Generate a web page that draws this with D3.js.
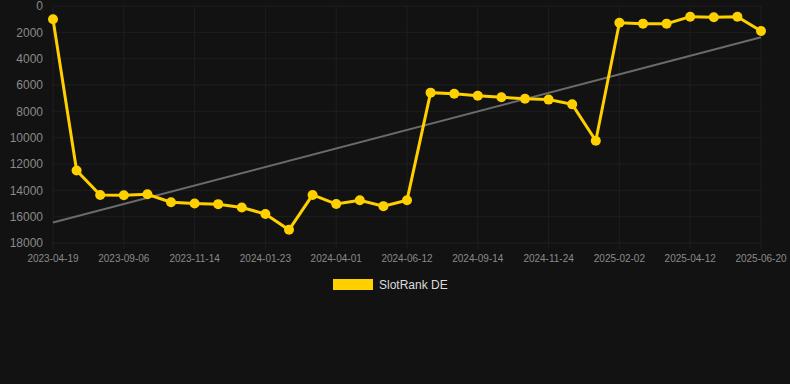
<!DOCTYPE html>
<html>
<head>
  <meta charset="UTF-8">
  <title>SlotRank DE</title>
  <style>
    body { margin: 0; background-color: #121212; }
    svg { display: block; }
    text { font-family: "Liberation Sans", Arial, sans-serif; }
  </style>
</head>
<body>
  <svg></svg>
  <script src="https://d3js.org/d3.v7.min.js"></script>
  <script>
    // dates for each point (only every third is labelled on the axis)
    const dates = [
      "2023-04-19", "2023-06-05", "2023-07-22", "2023-09-06", "2023-09-29", "2023-10-22",
      "2023-11-14", "2023-12-07", "2023-12-30", "2024-01-23", "2024-02-15", "2024-03-09",
      "2024-04-01", "2024-04-25", "2024-05-19", "2024-06-12", "2024-07-13", "2024-08-13",
      "2024-09-14", "2024-10-07", "2024-10-31", "2024-11-24", "2024-12-17", "2025-01-09",
      "2025-02-02", "2025-02-25", "2025-03-20", "2025-04-12", "2025-05-05", "2025-05-28",
      "2025-06-20"
    ];
    const rankValues = [
      1000, 12500, 14350, 14380, 14300, 14900,
      15000, 15050, 15300, 15800, 17000, 14350,
      15040, 14750, 15200, 14750, 6580, 6660,
      6810, 6930, 7040, 7110, 7470, 10230,
      1270, 1340, 1340, 810, 860, 810,
      1900
    ];
    const trendValues = [16450, 2380]; // trend line at first and last date
    const yTicks = [0, 2000, 4000, 6000, 8000, 10000, 12000, 14000, 16000, 18000];
    const seriesName = "SlotRank DE";

    let width = 790, height = 384;
    let svg = d3.select("svg").attr("width", width).attr("height", height);

    let x = d3.scalePoint().domain(dates).range([53, 761]);
    let y = d3.scaleLinear().domain([0, 18000]).range([6, 243]);

    let gridColor = "#1e1e1e";
    let labelColor = "#8a8a8a";

    // horizontal grid + y labels
    svg.append("g")
      .selectAll("line")
      .data(yTicks)
      .enter()
      .append("line")
      .attr("x1", 53).attr("x2", 761)
      .attr("y1", d => y(d)).attr("y2", d => y(d))
      .attr("stroke", gridColor).attr("stroke-width", 1);

    svg.append("g")
      .selectAll("text")
      .data(yTicks)
      .enter()
      .append("text")
      .attr("x", 43)
      .attr("y", d => y(d))
      .attr("dy", "0.35em")
      .attr("text-anchor", "end")
      .attr("font-size", 12)
      .attr("fill", labelColor)
      .text(d => d);

    // vertical grid + x labels (every 3rd date)
    let xTicks = dates.filter((d, i) => i % 3 == 0);
    svg.append("g")
      .selectAll("line")
      .data(xTicks)
      .enter()
      .append("line")
      .attr("x1", d => x(d)).attr("x2", d => x(d))
      .attr("y1", 6).attr("y2", 249)
      .attr("stroke", gridColor).attr("stroke-width", 1);

    svg.append("g")
      .selectAll("text")
      .data(xTicks)
      .enter()
      .append("text")
      .attr("x", d => x(d))
      .attr("y", 262)
      .attr("text-anchor", "middle")
      .attr("font-size", 10)
      .attr("fill", labelColor)
      .text(d => d);

    // trend line
    svg.append("line")
      .attr("x1", x(dates[0])).attr("y1", y(trendValues[0]))
      .attr("x2", x(dates[dates.length - 1])).attr("y2", y(trendValues[1]))
      .attr("stroke", "#6b6b6b").attr("stroke-width", 2);

    // series line and points
    let pts = dates.map((d, i) => ({ date: d, value: rankValues[i] }));
    let line = d3.line().x(d => x(d.date)).y(d => y(d.value));
    svg.append("path")
      .datum(pts)
      .attr("d", line)
      .attr("fill", "none")
      .attr("stroke", "#ffd000")
      .attr("stroke-width", 3);

    svg.append("g")
      .selectAll("circle")
      .data(pts)
      .enter()
      .append("circle")
      .attr("cx", d => x(d.date))
      .attr("cy", d => y(d.value))
      .attr("r", 5)
      .attr("fill", "#ffd000");

    // legend
    let legend = svg.append("g").attr("transform", "translate(333, 279)");
    legend.append("rect")
      .attr("width", 40).attr("height", 11)
      .attr("fill", "#ffd000");
    legend.append("text")
      .attr("x", 46).attr("y", 10)
      .attr("font-size", 12)
      .attr("fill", "#dddddd")
      .text(seriesName);
  </script>
</body>
</html>
